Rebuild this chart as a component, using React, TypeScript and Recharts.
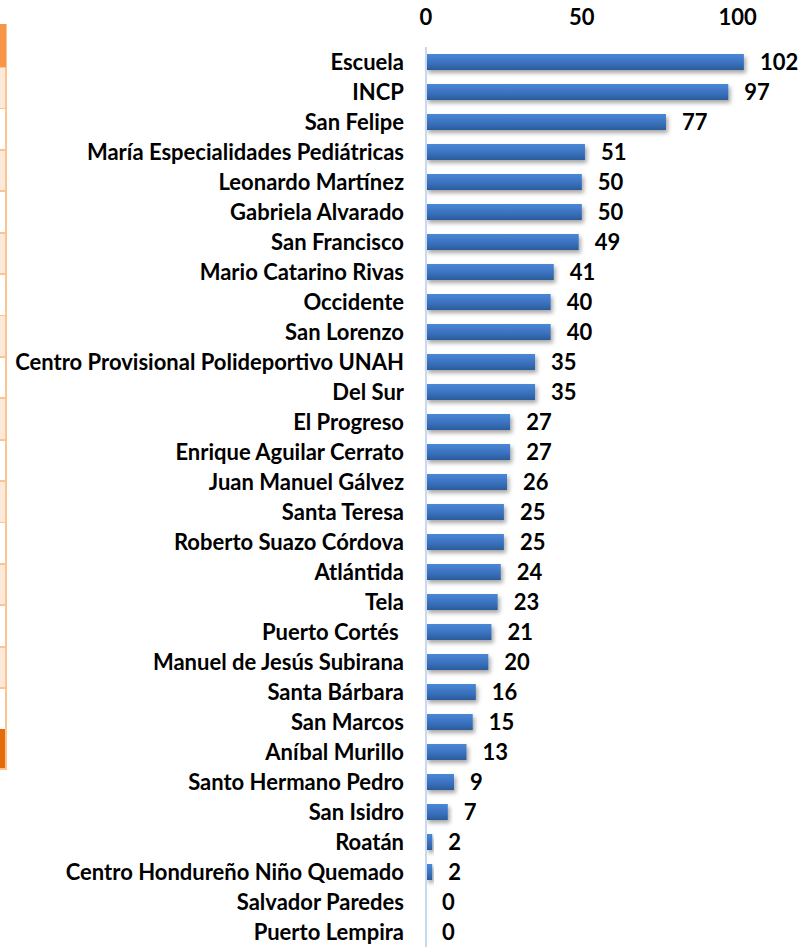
import { BarChart, Bar, XAxis, YAxis, LabelList } from "recharts";

// hospitals, top to bottom as in the picture
const HOSPITALS = [
  "Escuela",
  "INCP",
  "San Felipe",
  "María Especialidades Pediátricas",
  "Leonardo Martínez",
  "Gabriela Alvarado",
  "San Francisco",
  "Mario Catarino Rivas",
  "Occidente",
  "San Lorenzo",
  "Centro Provisional Polideportivo UNAH",
  "Del Sur",
  "El Progreso",
  "Enrique Aguilar Cerrato",
  "Juan Manuel Gálvez",
  "Santa Teresa",
  "Roberto Suazo Córdova",
  "Atlántida",
  "Tela",
  "Puerto Cortés\u00a0",
  "Manuel de Jesús Subirana",
  "Santa Bárbara",
  "San Marcos",
  "Aníbal Murillo",
  "Santo Hermano Pedro",
  "San Isidro",
  "Roatán",
  "Centro Hondureño Niño Quemado",
  "Salvador Paredes",
  "Puerto Lempira",
];

const COUNTS = [
  102, 97, 77, 51, 50, 50, 49, 41, 40, 40, 35, 35, 27, 27, 26, 25, 25, 24, 23,
  21, 20, 16, 15, 13, 9, 7, 2, 2, 0, 0,
];

const X_TICKS = [0, 50, 100];

const data = HOSPITALS.map((name, i) => ({ name, value: COUNTS[i] }));

const FONT = "Lato, 'Open Sans', sans-serif";

const TEXT_STYLE = {
  fill: "#000",
  fontSize: 22,
  fontWeight: 700,
  fontFamily: FONT,
} as const;

// leftover strip of the orange table that sits beside the chart in the source
function TableStrip() {
  const rows = Array.from({ length: 16 }, (_, i) => i);
  return (
    <div
      style={{
        position: "absolute",
        left: 0,
        top: 24,
        width: 7,
        height: 746,
        background: "#fbc593",
      }}
    >
      <div style={{ position: "absolute", left: 0, top: 0, width: 6, height: 43, background: "#f79646" }} />
      {rows.map((i) => (
        <div
          key={i}
          style={{
            position: "absolute",
            left: 0,
            top: 44 + i * 41.4,
            width: 5,
            height: 39.6,
            background: i % 2 === 0 ? "#fde9d9" : "#ffffff",
          }}
        />
      ))}
      <div style={{ position: "absolute", left: 0, top: 705, width: 5, height: 39, background: "#e46c0a" }} />
    </div>
  );
}

// value label drawn for every row, zero included
function ValueLabel(props: any) {
  const { x, y, width, height, value } = props;
  return (
    <text
      x={Number(x) + Number(width || 0) + 16}
      y={Number(y) + Number(height) / 2}
      dy="0.36em"
      textAnchor="start"
      style={TEXT_STYLE}
    >
      {value}
    </text>
  );
}

export default function App() {
  return (
    <div style={{ position: "absolute", left: 0, top: 0, width: 809, height: 947, background: "#fff" }}>
      <TableStrip />
      <BarChart
        width={809}
        height={947}
        data={data}
        layout="vertical"
        margin={{ top: 0, right: 9, bottom: 0, left: 0 }}
        barCategoryGap={7}
      >
        <defs>
          <linearGradient id="barFill" x1="0" y1="0" x2="0" y2="1">
            <stop offset="0%" stopColor="#4a88d6" />
            <stop offset="55%" stopColor="#3a72bf" />
            <stop offset="100%" stopColor="#2b5b9a" />
          </linearGradient>
          <filter id="barShadow" x="-10%" y="-30%" width="130%" height="190%">
            <feDropShadow dx="2" dy="3" stdDeviation="2" floodColor="#000" floodOpacity="0.35" />
          </filter>
        </defs>
        <XAxis
          type="number"
          orientation="top"
          domain={[0, 120]}
          ticks={X_TICKS}
          height={47}
          axisLine={false}
          tickLine={false}
          tickSize={0}
          tickMargin={22}
          tick={TEXT_STYLE}
        />
        <YAxis
          type="category"
          dataKey="name"
          width={426}
          interval={0}
          axisLine={{ stroke: "#c6d9f1", strokeWidth: 2 }}
          tickLine={false}
          tickSize={0}
          tickMargin={22}
          tick={TEXT_STYLE}
        />
        <Bar
          dataKey="value"
          fill="url(#barFill)"
          barSize={16}
          minPointSize={0.01}
          filter="url(#barShadow)"
          isAnimationActive={false}
        >
          <LabelList dataKey="value" content={ValueLabel} />
        </Bar>
      </BarChart>
    </div>
  );
}
